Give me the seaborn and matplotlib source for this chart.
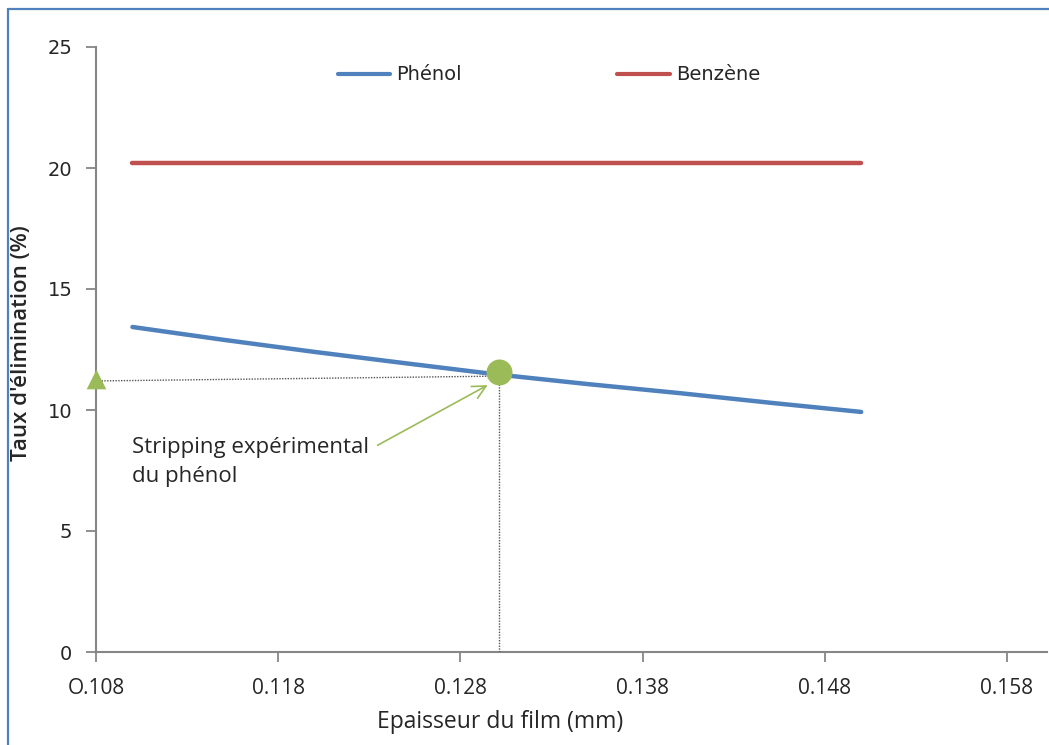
import matplotlib
matplotlib.use("Agg")
import matplotlib.pyplot as plt
from matplotlib.lines import Line2D
import seaborn as sns
import pandas as pd

# ---- data ----
thickness = [0.110, 0.115, 0.120, 0.125, 0.130, 0.135, 0.140, 0.145, 0.150]
phenol = [13.43, 12.90, 12.40, 11.93, 11.47, 11.07, 10.70, 10.30, 9.92]
benzene = [20.2, 20.2, 20.2, 20.2, 20.2, 20.2, 20.2, 20.2, 20.2]
series_names = ["Phénol", "Benzène"]
exp_x = 0.1301
exp_y = 11.57
tri_x = 0.108
tri_y = 11.3
xticks = [0.108, 0.118, 0.128, 0.138, 0.148, 0.158]
xticklabels = ["O.108", "0.118", "0.128", "0.138", "0.148", "0.158"]
yticks = [0, 5, 10, 15, 20, 25]

df = pd.DataFrame({
    "x": thickness * 2,
    "y": phenol + benzene,
    "serie": [series_names[0]] * len(thickness) + [series_names[1]] * len(thickness),
})

sns.set_theme(style="white")
plt.rcParams["font.family"] = ["DejaVu Sans"]

blue = "#4F81BD"
red = "#C0504D"
green = "#9BBB59"
gray = "#868686"
txt = "#262626"

fig = plt.figure(figsize=(10.49, 7.45), dpi=100)
ax = fig.add_axes([96 / 1049, 93 / 745, (1047 - 96) / 1049, (652 - 47) / 745])

sns.lineplot(data=df, x="x", y="y", hue="serie", palette=[blue, red],
             linewidth=3.2, ax=ax, solid_capstyle="round", legend=False)

# guide lines (dotted)
ax.plot([tri_x, exp_x], [11.2, 11.4], ls=(0, (1, 1)), color="#555555", lw=1.0, zorder=3)
ax.plot([exp_x, exp_x], [0, 11.4], ls=(0, (1, 1)), color="#555555", lw=1.0, zorder=3)

# markers
ax.scatter([exp_x], [exp_y], s=350, color=green, zorder=5, linewidths=0)
ax.scatter([tri_x], [tri_y], s=200, marker="^", color=green, zorder=5, linewidths=0, clip_on=False)

# annotation
ax.annotate("Stripping expérimental\ndu phénol", xy=(0.1295, 11.03), xytext=(0.1100, 7.85),
            fontsize=16, family="Open Sans", color=txt, ha="left", va="center",
            linespacing=1.45,
            arrowprops=dict(arrowstyle="->", color=green, lw=1.2, mutation_scale=24,
                            shrinkA=4, shrinkB=0, relpos=(1.0, 0.75)))

ax.set_xlim(0.108, 0.1602)
ax.set_ylim(0, 25)
ax.set_xticks(xticks)
ax.set_xticklabels(xticklabels, family="Open Sans", fontsize=15)
ax.set_yticks(yticks)
ax.set_yticklabels([str(v) for v in yticks], family="DejaVu Sans", fontsize=14)
ax.tick_params(axis="both", direction="out", length=7, width=1.3, color=gray,
               left=True, bottom=True, colors=txt)
ax.tick_params(axis="x", pad=12)
ax.tick_params(axis="y", pad=10)
for t in ax.get_xticklines() + ax.get_yticklines():
    t.set_color(gray)

sns.despine(ax=ax)
for s in ["left", "bottom"]:
    ax.spines[s].set_color(gray)
    ax.spines[s].set_linewidth(1.5)

ax.set_xlabel("Epaisseur du film (mm)", family="Open Sans", fontsize=16.5, color=txt)
ax.xaxis.set_label_coords((500 - 96) / 951, -(710 - 652) / 605)
ax.set_ylabel("Taux d'élimination (%)", family="Open Sans", fontsize=16, color=txt,
              fontweight="semibold")
ax.yaxis.set_label_coords(-(96 - 32) / 951, (652 - 343) / 605)

handles = [Line2D([], [], color=blue, lw=3), Line2D([], [], color=red, lw=3)]
leg = ax.legend(handles, series_names, loc="center", bbox_to_anchor=(549 / 1049, 1 - 75 / 745),
                bbox_transform=fig.transFigure, ncol=2, frameon=False, fontsize=14,
                handlelength=2.7, handletextpad=0.3, columnspacing=8.0)
for t in leg.get_texts():
    t.set_color(txt)

# outer frame (top and left only, as in the cropped reference)
fig.add_artist(Line2D([8 / 1049, 1.0], [1 - 9 / 745, 1 - 9 / 745], transform=fig.transFigure,
                      color=blue, lw=1.6))
fig.add_artist(Line2D([8 / 1049, 8 / 1049], [0.0, 1 - 9 / 745], transform=fig.transFigure,
                      color=blue, lw=1.6))

fig.savefig("out.png", dpi=100)
